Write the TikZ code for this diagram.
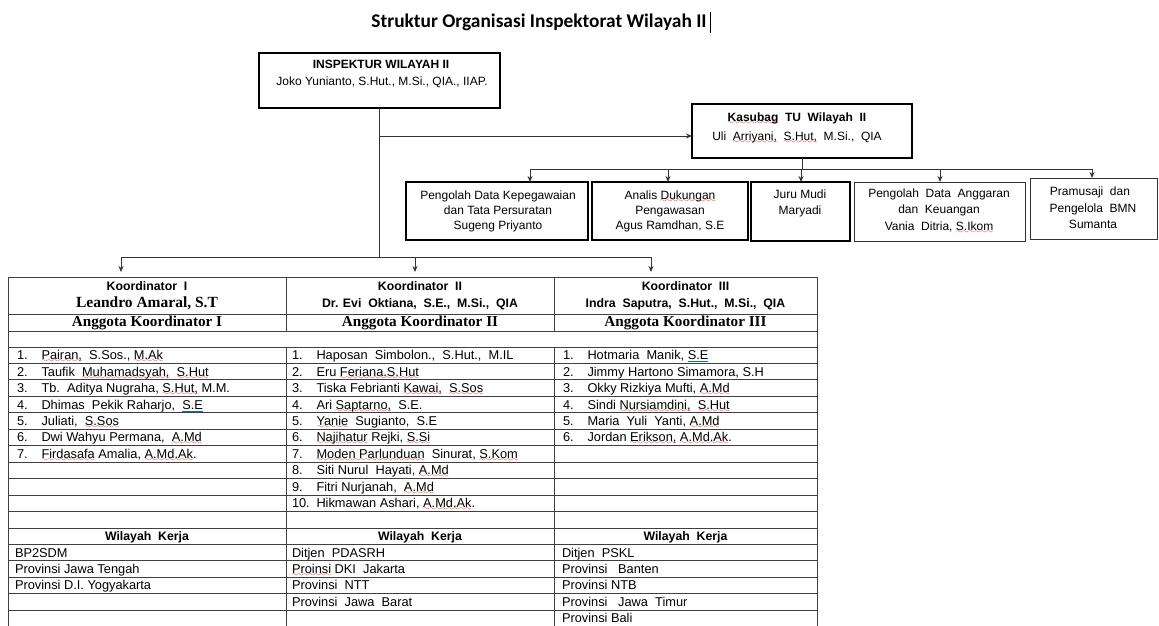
\documentclass[tikz,border=0pt]{standalone}
\usepackage{fontspec}
\setmainfont{Liberation Sans}
\newfontfamily\tnrfont{Liberation Serif}
\newfontfamily\calfont{Carlito}
\usetikzlibrary{arrows.meta}
\font\mywavefont=lasy7
\newbox\sqbox
\newcommand\sq[1]{\setbox\sqbox\hbox{#1}\smash{\rlap{\textcolor{red!85!black}{\lower3pt\hbox to\wd\sqbox{\xleaders\hbox{\mywavefont\char58}\hfill}}}}\box\sqbox}
\newcommand\bq[1]{\setbox\sqbox\hbox{#1}\smash{\rlap{\textcolor{blue!60!cyan}{\rule[-2.5pt]{\wd\sqbox}{0.7pt}}}}\box\sqbox}
\tikzset{
  every node/.style={inner sep=0pt, outer sep=0pt},
  txt/.style={font=\fontsize{12}{14}\selectfont, anchor=base},
  btxt/.style={font=\bfseries\fontsize{12}{14}\selectfont, anchor=base},
  bx/.style={draw=black, line width=1.8pt},
  thinbx/.style={draw=black!80, line width=1pt},
  conn/.style={draw=black!80, line width=1pt},
  arr/.style={conn, -{Stealth[length=6pt,width=5pt]}},
  gridline/.style={draw=black!75, line width=0.9pt},
  cell/.style={font=\fontsize{12.8}{14}\selectfont, anchor=base west},
  hsans/.style={font=\bfseries\fontsize{12.3}{14}\selectfont, anchor=base},
  hserif/.style={font=\tnrfont\bfseries\fontsize{15.5}{17}\selectfont, anchor=base},
}
% #1 name, #2 x of number, #3 row, #4 number, #5 text
\newcommand\ent[5]{%
  \node[cell] (#1n) at (#2, {347+16.45*#3-3.8}) {#4.};
  \node[cell] (#1t) at (#2+24.5, {347+16.45*#3-3.8}) {#5};}
\newcommand\wk[4]{%
  \node[cell] (#1) at (#2, {347+16.45*#3-3.8}) {#4};}
\begin{document}
\begin{tikzpicture}[x=1pt,y=-1pt]
\useasboundingbox[fill=white] (0,0) rectangle (1159,626);

% title
\node[font=\calfont\bfseries\fontsize{19.4}{22}\selectfont, anchor=base] (title) at (539,28) {Struktur Organisasi Inspektorat Wilayah II};
\draw[black, line width=0.6pt] (710,12) -- (710,33);

% Inspektur
\node[draw=black, line width=1.5pt, minimum width=241pt, minimum height=55pt] (insp) at (379.5,80.5) {};
\node[btxt] (inspA) at (381,69) {INSPEKTUR WILAYAH II};
\node[txt] (inspB) at (382,85) {Joko Yunianto, S.Hut., M.Si., QIA., IIAP.};

% Kasubag
\node[bx, minimum width=220pt, minimum height=54pt] (kas) at (802,131) {};
\node[btxt] (kasA) at (797,121.5) {\sq{Kasubag}\ \ TU\ \ Wilayah\ \ II};
\node[txt] (kasB) at (797,140) {Uli\ \ \sq{Arriyani,}\ \ \sq{S.Hut,}\ \ M.Si.,\ \ QIA};

% staff boxes
\node[bx, minimum width=182pt, minimum height=58pt] (peg) at (497,211) {};
\node[txt] (pegA) at (498,199) {Pengolah Data Kepegawaian};
\node[txt] (pegB) at (498,214) {dan Tata Persuratan};
\node[txt] (pegC) at (498,229) {Sugeng Priyanto};

\node[bx, minimum width=156pt, minimum height=58pt] (ana) at (670,211) {};
\node[txt] (anaA) at (670,199) {Analis \sq{Dukungan}};
\node[txt] (anaB) at (670,214) {Pengawasan};
\node[txt] (anaC) at (670,229) {Agus Ramdhan, S.E};

\node[bx, minimum width=99pt, minimum height=59pt] (juru) at (800.5,211.5) {};
\node[txt] (juruA) at (800,198) {Juru Mudi};
\node[txt] (juruB) at (800,214) {Maryadi};

\node[thinbx, minimum width=171pt, minimum height=59pt] (ang) at (939.5,211.5) {};
\node[txt] (angA) at (939,197) {Pengolah\ \ Data\ \ Anggaran};
\node[txt] (angB) at (939,213) {dan\ \ Keuangan};
\node[txt] (angC) at (939,230) {Vania\ \ Ditria, \sq{S.Ikom}};

\node[thinbx, minimum width=127pt, minimum height=61pt] (pram) at (1093.5,208.5) {};
\node[txt] (pramA) at (1090,195) {Pramusaji\ \ dan};
\node[txt] (pramB) at (1093,212) {Pengelola\ \ BMN};
\node[txt] (pramC) at (1093,228) {Sumanta};

% connectors top
\coordinate (jk) at (379.5,136);
\coordinate (jt) at (379.5,257);
\draw[conn] (insp.south) -- (jt);
\draw[arr] (jk) -- (jk -| kas.west);
\coordinate (kb) at (802,169);
\draw[conn] (kas.south) -- (kb);
\coordinate (b1) at (530,169);
\coordinate (b2) at (668,169);
\coordinate (b3) at (801,169);
\coordinate (b4) at (940,169);
\coordinate (b5) at (1092,169);
\draw[conn] (b1) -- (b5);
\draw[arr] (b1) -- (b1 |- peg.north);
\draw[arr] (b2) -- (b2 |- ana.north);
\draw[arr] (b3) -- (b3 |- juru.north);
\draw[arr] (b4) -- (b4 |- ang.north);
\draw[arr] (b5) -- (b5 |- pram.north);

% connectors to table
\coordinate (c1) at (121,257);
\coordinate (c2) at (415,257);
\coordinate (c3) at (651,257);
\coordinate (k1) at (121,272);
\coordinate (k2) at (415,272);
\coordinate (k3) at (651,272);
\draw[conn] (c1) -- (c3);
\draw[arr] (c1) -- (k1);
\draw[arr] (c2) -- (k2);
\draw[arr] (c3) -- (k3);

% table grid
\foreach \yy in {277,314,331,347} \draw[gridline] (8,\yy) -- (817,\yy);
\foreach \k in {1,...,16} \draw[gridline] (8,{347+16.45*\k}) -- (817,{347+16.45*\k});
\draw[gridline] (8,277) -- (8,626);
\draw[gridline] (817,277) -- (817,626);
\draw[gridline] (286,277) -- (286,331);
\draw[gridline] (286,347) -- (286,626);
\draw[gridline] (554,277) -- (554,331);
\draw[gridline] (554,347) -- (554,626);

% headers
\node[hsans] (h1a) at (147,290) {Koordinator\ \ I};
\node[hserif] (h1b) at (147,307.5) {Leandro Amaral, S.T};
\node[hserif, font=\tnrfont\bfseries\fontsize{15.2}{17}\selectfont] (h1c) at (147,326.5) {Anggota Koordinator I};
\node[hsans] (h2a) at (420,290) {Koordinator\ \ II};
\node[hsans] (h2b) at (420,307.5) {Dr. Evi\ \ Oktiana,\ \ S.E.,\ \ M.Si.,\ \ QIA};
\node[hserif, font=\tnrfont\bfseries\fontsize{15.2}{17}\selectfont] (h2c) at (420,326.5) {Anggota Koordinator II};
\node[hsans] (h3a) at (685.5,290) {Koordinator\ \ III};
\node[hsans] (h3b) at (685.5,307.5) {Indra\ \ Saputra,\ \ S.Hut.,\ \ M.Si.,\ \ QIA};
\node[hserif, font=\tnrfont\bfseries\fontsize{15.2}{17}\selectfont] (h3c) at (685.5,326.5) {Anggota Koordinator III};

% column 1
\ent{a1}{17}{1}{1}{\sq{Pairan,}\ \ S.Sos., \sq{M.Ak}}
\ent{a2}{17}{2}{2}{Taufik\ \ \sq{Muhamadsyah,}\ \ \sq{S.Hut}}
\ent{a3}{17}{3}{3}{Tb.\ \ Aditya Nugraha, \sq{S.Hut,} M.M.}
\ent{a4}{17}{4}{4}{Dhimas\ \ Pekik Raharjo,\ \ \bq{S.E}}
\ent{a5}{17}{5}{5}{Juliati,\ \ \sq{S.Sos}}
\ent{a6}{17}{6}{6}{Dwi Wahyu Permana,\ \ \sq{A.Md}}
\ent{a7}{17}{7}{7}{\sq{Firdasafa} Amalia, \sq{A.Md.Ak}.}

% column 2
\ent{b1}{292}{1}{1}{Haposan\ \ Simbolon.,\ \ S.Hut.,\ \ M.IL}
\ent{b2}{292}{2}{2}{Eru \sq{Feriana.S.Hut}}
\ent{b3}{292}{3}{3}{Tiska Febrianti \sq{Kawai,}\ \ \sq{S.Sos}}
\ent{b4}{292}{4}{4}{Ari \sq{Saptarno,}\ \ S.E.}
\ent{b5}{292}{5}{5}{\sq{Yanie}\ \ Sugianto,\ \ S.E}
\ent{b6}{292}{6}{6}{\sq{Najihatur} Rejki, \sq{S.Si}}
\ent{b7}{292}{7}{7}{\sq{Moden Parlunduan}\ \ Sinurat, \sq{S.Kom}}
\ent{b8}{292}{8}{8}{Siti Nurul\ \ Hayati, \sq{A.Md}}
\ent{b9}{292}{9}{9}{Fitri Nurjanah,\ \ \sq{A.Md}}
\ent{b10}{292}{10}{10}{Hikmawan Ashari, \sq{A.Md.Ak}.}

% column 3
\ent{c1}{563}{1}{1}{Hotmaria\ \ Manik, \bq{S.E}}
\ent{c2}{563}{2}{2}{Jimmy Hartono Simamora, S.H}
\ent{c3}{563}{3}{3}{Okky Rizkiya Mufti, \sq{A.Md}}
\ent{c4}{563}{4}{4}{Sindi \sq{Nursiamdini,}\ \ \sq{S.Hut}}
\ent{c5}{563}{5}{5}{Maria\ \ Yuli\ \ Yanti, \sq{A.Md}}
\ent{c6}{563}{6}{6}{Jordan \sq{Erikson,} \sq{A.Md.Ak}.}

% wilayah kerja
\node[hsans] (w1h) at (147,{347+16.45*12-3.8}) {Wilayah\ \ Kerja};
\node[hsans] (w2h) at (420,{347+16.45*12-3.8}) {Wilayah\ \ Kerja};
\node[hsans] (w3h) at (685.5,{347+16.45*12-3.8}) {Wilayah\ \ Kerja};
\wk{wa1}{15}{13}{BP2SDM}
\wk{wa2}{15}{14}{Provinsi Jawa Tengah}
\wk{wa3}{15}{15}{Provinsi D.I. Yogyakarta}
\wk{wb1}{292}{13}{Ditjen\ \ PDASRH}
\wk{wb2}{292}{14}{\sq{Proinsi} DKI\ \ Jakarta}
\wk{wb3}{292}{15}{Provinsi\ \ NTT}
\wk{wb4}{292}{16}{Provinsi\ \ Jawa\ \ Barat}
\wk{wc1}{562}{13}{Ditjen\ \ PSKL}
\wk{wc2}{562}{14}{Provinsi\ \ \ Banten}
\wk{wc3}{562}{15}{Provinsi NTB}
\wk{wc4}{562}{16}{Provinsi\ \ \ Jawa\ \ Timur}
\wk{wc5}{562}{17}{Provinsi Bali}
\end{tikzpicture}
\end{document}
